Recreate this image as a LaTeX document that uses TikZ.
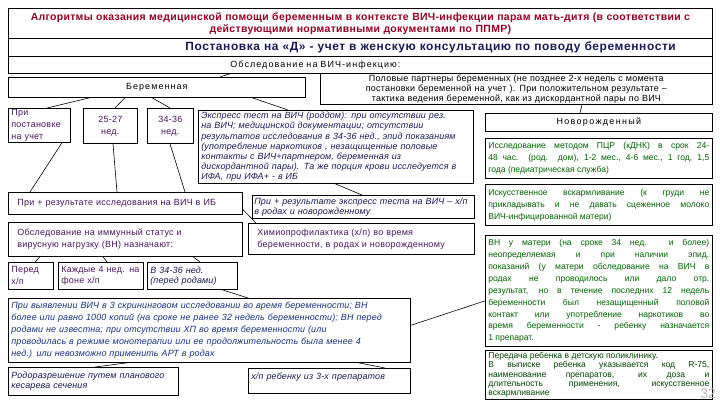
\documentclass[tikz,border=0pt]{standalone}
\usepackage{fontspec}
\setmainfont{Liberation Sans}

\definecolor{titlered}{RGB}{150,0,35}
\definecolor{navy}{RGB}{25,25,85}
\definecolor{plum}{RGB}{75,20,95}
\definecolor{italblue}{RGB}{20,50,125}
\definecolor{leafgreen}{RGB}{0,100,0}

\newcommand\bodyfs{\fontsize{9}{12}\selectfont\addfontfeature{LetterSpace=3}}
\newcommand\greenfs{\fontsize{8.6}{12}\selectfont}
\newcommand\itfs{\fontsize{9}{10.2}\selectfont\addfontfeature{LetterSpace=1.5}\itshape}

\tikzset{
  box/.style={draw, line width=.7pt, anchor=north west, inner xsep=3bp, inner ysep=1bp, font=\bodyfs},
  link/.style={line width=.6pt},
  spaced/.style={font=\fontsize{9}{12}\selectfont\addfontfeature{LetterSpace=12}},
  navyit/.style={text=navy, font=\itfs},
  greenbox/.style={align=justify, text=leafgreen, font=\greenfs},
}

\begin{document}
\begin{tikzpicture}[x=1bp,y=-1bp]
\useasboundingbox (0,0) rectangle (720,405);

% header
\node[box, text width=698bp, minimum height=30bp, align=center, text=titlered,
  font=\fontsize{10.5}{12}\selectfont\addfontfeature{LetterSpace=3}\bfseries] (title) at (8,8)
  {Алгоритмы оказания медицинской помощи беременным в контексте ВИЧ-инфекции парам мать-дитя (в соответствии с\\действующими нормативными документами по ППМР)};
\node[box, text width=698bp, minimum height=18bp, inner ysep=0pt, align=left, text=navy,
  font=\fontsize{12}{13}\selectfont\addfontfeature{LetterSpace=5}\bfseries] (post) at (8,38)
  {\hspace*{174bp}Постановка на «Д» - учет в женскую консультацию по поводу  беременности};
\node[box, spaced, text width=698bp, minimum height=17bp, align=left] (obsl) at (8,56)
  {\hspace*{219bp}Обследование  на ВИЧ-инфекцию:};

% pregnant woman
\node[box, spaced, text width=291bp, minimum height=20bp, align=center] (ber) at (8,77) {Беременная};
\node[box, text width=386bp, minimum height=31bp, inner ysep=0pt, align=center,
  font=\fontsize{9}{10}\selectfont\addfontfeature{LetterSpace=3}] (partn) at (320,73)
  {Половые партнеры беременных (не позднее 2-х недель  с момента\\постановки беременной на  учет ). При положительном результате –\\тактика ведения беременной, как из дискордантной пары по ВИЧ};

\node[box, text width=56bp, minimum height=33bp, align=left, text=plum] (pri1) at (8,108) {При\\постановке\\на учет};
\node[box, text width=48bp, minimum height=35bp, align=center, text=plum] (w25) at (83,108) {25-27\\нед.};
\node[box, text width=40bp, minimum height=35bp, align=center, text=plum] (w34) at (147,108) {34-36\\нед.};

\node[box, navyit, text width=269bp, minimum height=73bp, align=left] (expr) at (198,110)
  {Экспресс тест на ВИЧ (роддом): при отсутствии  рез.\\на ВИЧ; медицинской документации; отсутствии\\результатов исследования в 34-36 нед., эпид показаниям\\(употребление наркотиков ,  незащищенные половые\\контакты с ВИЧ+партнером,  беременная из\\дискордантной пары). Та же порция крови исследуется в\\ИФА, при ИФА+  - в ИБ};

% newborn column
\node[box, font=\fontsize{9}{12}\selectfont\addfontfeature{LetterSpace=15}, text width=221bp, minimum height=18bp, align=center] (newb) at (485,113) {Новорожденный};
\node[box, greenbox, text width=221bp, minimum height=40bp] (pcr) at (485,138)
  {Исследование методом ПЦР (кДНК)  в срок 24-\linebreak 48 час. (род. дом), 1-2 мес., 4-6 мес., 1 год, 1,5\linebreak года  (педиатрическая служба)};
\node[box, greenbox, text width=221bp, minimum height=41bp] (art) at (485,184)
  {Искусственное вскармливание (к груди не\linebreak прикладывать и не давать сцеженное молоко\linebreak ВИЧ-инфицированной матери)};
\node[box, greenbox, text width=221bp, minimum height=111bp] (vn) at (485,235)
  {ВН у матери (на сроке 34 нед. и более)\linebreak неопределяемая и при наличии эпид.\linebreak показаний (у матери обследование на ВИЧ в\linebreak родах не проводилось или дало отр.\linebreak результат, но в течение последних 12 недель\linebreak беременности был незащищенный половой\linebreak контакт или употребление наркотиков во\linebreak время беременности  - ребенку назначается\linebreak 1 препарат.};
\node[box, greenbox, text width=221bp, minimum height=49bp, inner ysep=0pt, text=leafgreen!70!black,
  font=\fontsize{8.6}{9.3}\selectfont] (handover) at (485,350)
  {Передача ребенка в детскую поликлинику.\\В выписке ребенка  указывается код R-75,\linebreak наименование препаратов, их доза и\linebreak длительность применения, искусственное\linebreak вскармливание};

% positive results
\node[box, text width=228bp, minimum height=22bp, align=left, text=plum] (ib) at (8,192)
  {\hspace*{6bp}При + результате исследования на ВИЧ в ИБ};
\node[box, navyit, inner xsep=2bp, text width=218bp, minimum height=23bp, align=left] (exprpos) at (252,195)
  {При + результате экспресс теста на ВИЧ – х/п\\в родах и новорожденному};
\node[box, text width=228bp, minimum height=34bp, align=left, text=plum] (immun) at (8,222)
  {\hspace*{6bp}Обследование на иммунный статус и\\\hspace*{6bp}вирусную нагрузку  (ВН) назначают:};
\node[box, text width=220bp, minimum height=31bp, align=left, text=plum] (chemo) at (248,223)
  {\hspace*{6bp}Химиопрофилактика  (х/п)  во время\\\hspace*{6bp}беременности,   в родах и новорожденному};

\node[box, text width=39bp, minimum height=27bp, align=left, text=plum] (pered) at (8,262) {Перед\\х/п};
\node[box, text width=79bp, minimum height=27bp, align=left, text=plum] (each4) at (58,262) {Каждые  4 нед. на\\фоне х/п};
\node[box, navyit, text width=84bp, minimum height=27bp, align=left] (w3436) at (147,262) {В 34-36 нед.\\(перед родами)};

\node[box, text width=396bp, minimum height=64bp, align=left, text=italblue,
  font=\fontsize{9}{12}\selectfont\addfontfeature{LetterSpace=1.5}\itshape] (long) at (8,298)
  {При  выявлении ВИЧ в  3 скрининговом исследовании во время беременности; ВН\\более или равно 1000 копий (на сроке не ранее 32 недель беременности); ВН перед\\родами не известна; при отсутствии ХП во время беременности (или\\проводилась в режиме монотерапии или ее продолжительность была менее 4\\нед.) или невозможно применить  АРТ в родах};
\node[box, navyit, text width=164bp, minimum height=28bp, align=left] (rodo) at (8,367)
  {Родоразрешение путем планового\\кесарева  сечения};
\node[box, navyit, text width=156bp, minimum height=25bp, align=left] (xp3) at (248,368)
  {х/п  ребенку из 3-х препаратов\\\mbox{}};

\node[text=gray!55, font=\fontsize{14}{14}\selectfont] (pnum) at (708,394) {32};

% connectors
\draw[link] ([xshift=222bp]obsl.south west) -- ([xshift=212bp]ber.north west);
\draw[link] ([xshift=82bp]ber.south west) -- ([xshift=39bp]pri1.north west);
\draw[link] ([xshift=117bp]ber.south west) -- ([xshift=32bp]w25.north west);
\draw[link] ([xshift=144bp]ber.south west) -- ([xshift=23bp]w34.north west);
\draw[link] ([xshift=244bp]ber.south west) -- ([xshift=90bp]expr.north west);
\draw[link] ([xshift=262bp]partn.south west) -- ([xshift=95bp]newb.north west);
\draw[link] ([xshift=54bp]pri1.south west) -- ([xshift=22bp]ib.north west);
\draw[link] ([xshift=30bp]w25.south west) -- ([xshift=109bp]ib.north west);
\draw[link] ([xshift=23bp]w34.south west) -- ([xshift=177bp]ib.north west);
\draw[link] ([xshift=137bp]expr.south west) -- ([xshift=110bp]exprpos.north west);
\draw[link] ([yshift=-6bp]ib.east) -- ([xshift=8bp]chemo.north west);
\draw[link] ([xshift=32bp]immun.south west) -- ([xshift=27bp]pered.north west);
\draw[link] ([xshift=95bp]immun.south west) -- ([xshift=49bp]each4.north west);
\draw[link] ([xshift=185bp]immun.south west) -- ([xshift=53bp]w3436.north west);
\draw[link] ([xshift=75bp]w3436.south west) -- ([xshift=240bp]long.north west);
\draw[link] ([yshift=5bp]long.east) -- ([yshift=-10bp]vn.west);
\draw[link] ([xshift=120bp]long.south west) -- ([xshift=87bp]rodo.north west);
\draw[link] ([xshift=350bp]long.south west) -- ([xshift=137bp]xp3.north west);
\end{tikzpicture}
\end{document}
